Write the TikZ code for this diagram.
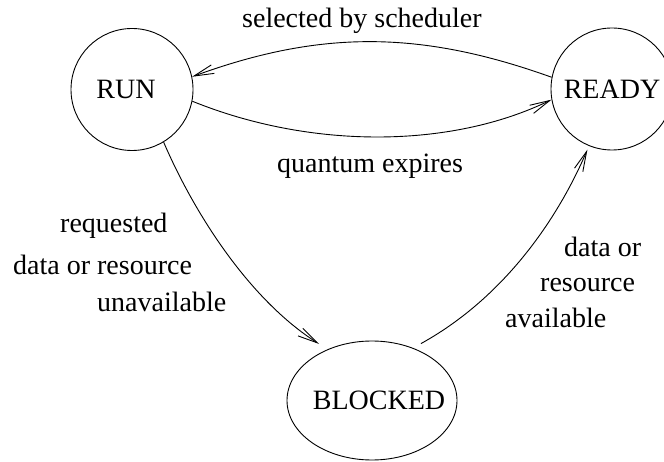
\documentclass[tikz,border=0pt]{standalone}
\usepackage{fontspec}
\setmainfont{Liberation Serif}
\usetikzlibrary{arrows.meta,shapes.geometric}
\begin{document}
\begin{tikzpicture}[x=1pt,y=-1pt,
  every node/.style={font=\fontsize{28}{32}\selectfont},
  state/.style={draw, circle, minimum size=122pt, inner sep=0pt, line width=0.9pt},
  blockedstate/.style={draw, ellipse, minimum width=170pt, minimum height=119pt, inner sep=0pt, line width=0.9pt},
  trans/.style={line width=0.9pt, -{Straight Barb[length=20pt,width=9pt]}},
  lbl/.style={inner sep=0pt, anchor=base west}]
\useasboundingbox (0,0) rectangle (664,462);

% process states
\node[state] (run) at (132,89.5) {\makebox[0pt]{\hspace*{-12pt}RUN}};
\node[state] (ready) at (612,89) {\makebox[0pt]{READY}};
\node[blockedstate] (blocked) at (372,400.5) {\makebox[0pt]{\hspace*{14pt}BLOCKED}};

% transitions
\draw[trans] (ready.169) .. controls (420,30) and (320,30) .. (run.12);
\draw[trans] (run.-11) .. controls (310,149) and (450,149) .. (ready.190);
\draw[trans, shorten >=10pt] (run.-59) .. controls (195,215) and (250,300) .. (blocked.131);
\draw[trans, shorten <=9pt, shorten >=4pt] (blocked.52) .. controls (500,300) and (555,225) .. (ready.248);

% transition labels
\node[lbl] (lsel) at (242,28) {selected by scheduler};
\node[lbl] (lqua) at (277,173) {quantum expires};
\node[lbl] (lreq1) at (60,233) {requested};
\node[lbl] (lreq2) at (13,275) {data or resource};
\node[lbl] (lreq3) at (97,312) {unavailable};
\node[lbl] (lava1) at (564,257) {data or};
\node[lbl] (lava2) at (540,292) {resource};
\node[lbl] (lava3) at (505,327) {available};
\end{tikzpicture}
\end{document}
